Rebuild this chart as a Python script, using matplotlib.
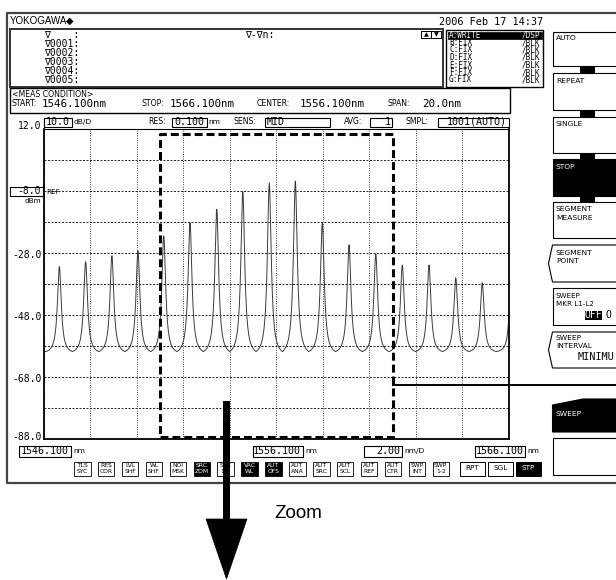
import numpy as np
import matplotlib.pyplot as plt
from matplotlib.patches import Rectangle, Polygon

W, H = 616, 580
SANS = 'DejaVu Sans'
MONO = 'DejaVu Sans Mono'

# --- sweep settings shown on the screen ---
start_nm, center_nm, stop_nm = 1546.1, 1556.1, 1566.1
span_nm, nm_div = 20.0, 2.0
top_dbm, ref_dbm, db_div = 12.0, -8.0, 10.0

# --- trace: peak centres / peak levels / floor between peaks ---
peak_nm = [1546.76, 1547.89, 1549.02, 1550.14, 1551.25, 1552.38, 1553.53, 1554.65,
           1555.79, 1556.91, 1558.07, 1559.22, 1560.37, 1561.51, 1562.66, 1563.81,
           1564.95, 1566.16]
peak_dbm = [-32.4, -30.8, -28.9, -27.3, -22.5, -18.2, -13.9, -8.2,
            -5.5, -4.8, -18.4, -25.4, -28.3, -31.9, -31.9, -36.0,
            -37.6, -44.0]
floor_dbm = -59.8
peak_hw_nm = 0.10

y_label_dbm = [12.0, -8.0, -28.0, -48.0, -68.0, -88.0]

# zoom window marked on the screen
zoom_nm = (1551.1, 1561.1)
zoom_dbm = (-87.3, 10.4)

marker_rows = ['∇    :', '∇0001:', '∇0002:', '∇0003:', '∇0004:', '∇0005:']
trace_names = ['A:WRITE', 'B:FIX', 'C:FIX', 'D:FIX', 'E:FIX', 'F:FIX', 'G:FIX']
trace_modes = ['/DSP', '/BLK', '/BLK', '/BLK', '/BLK', '/BLK', '/BLK']

btn_top = ['TLS', 'RES', 'LVL', 'WL', 'NOI', 'SRC', 'SRC', 'VAC', 'AUT', 'AUT',
           'AUT', 'AUT', 'AUT', 'AUT', 'SWP', 'SWP']
btn_bot = ['SYC', 'COR', 'SHF', 'SHF', 'MSK', 'ZOM', '1-2', 'WL', 'OFS', 'ANA',
           'SRC', 'SCL', 'REF', 'CTR', 'INT', '1-2']
btn_on = [5, 7, 8]


# build the trace from the peak table
pk = np.array(peak_nm)
lv = np.array(peak_dbm)
wl = np.union1d(np.linspace(start_nm, stop_nm, 4001), pk)
level = np.full_like(wl, floor_dbm)
for i in range(len(pk)):
    lh = (pk[i] - pk[i - 1]) / 2 if i > 0 else 0.57
    rh = (pk[i + 1] - pk[i]) / 2 if i < len(pk) - 1 else 0.57
    m = (wl >= pk[i] - lh) & (wl <= pk[i] + rh)
    d = wl[m] - pk[i]
    h = np.where(d < 0, lh, rh)
    s = 1 / (1 + (d / peak_hw_nm) ** 2)
    s0 = 1 / (1 + (h / peak_hw_nm) ** 2)
    level[m] = floor_dbm + (lv[i] - floor_dbm) * (s - s0) / (1 - s0)

fig = plt.figure(figsize=(W / 100, H / 100), dpi=100)

# spectrum area (pixels 44..509 x 129..439)
ax = fig.add_axes([44 / W, 1 - 439 / H, 465 / W, 310 / H])
ax.plot(wl, level, color='#3a3a3a', lw=0.7)
ax.set_xlim(start_nm, stop_nm)
ax.set_ylim(top_dbm - 10 * db_div, top_dbm)
ax.set_xticks(start_nm + np.arange(11) * nm_div)
ax.set_yticks(top_dbm - np.arange(11) * db_div)
ax.tick_params(length=0, labelbottom=False, labelleft=False)
ax.xaxis.grid(True, ls=(0, (1, 1.8)), color='k', lw=0.6)
ax.yaxis.grid(True, ls=(0, (2.4, 1.8)), color='k', lw=0.6)
for sp in ax.spines.values():
    sp.set_linewidth(1.3)
ax.spines['top'].set_linewidth(0.8)
zx = [zoom_nm[0], zoom_nm[1], zoom_nm[1], zoom_nm[0], zoom_nm[0]]
zy = [zoom_dbm[0], zoom_dbm[0], zoom_dbm[1], zoom_dbm[1], zoom_dbm[0]]
ax.plot(zx, zy, color='k', lw=2.2, ls=(0, (2.6, 1.3)), zorder=5)

# overlay in screen pixels
ov = fig.add_axes([0, 0, 1, 1], zorder=3)
ov.set_xlim(0, W)
ov.set_ylim(H, 0)
ov.axis('off')
ov.patch.set_alpha(0)


def px_y(db):
    return 129 + (top_dbm - db) / (10 * db_div) * 310


def box(x0, y0, x1, y1, fc='white', ec='black', lw=0.8, z=2):
    ov.add_patch(Rectangle((x0, y0), x1 - x0, y1 - y0, fc=fc, ec=ec, lw=lw, zorder=z))


def txt(x, y, s, size=5.4, mono=False, color='black', ha='left', z=4, **kw):
    ov.text(x, y, s, fontsize=size, family=MONO if mono else SANS, color=color,
            ha=ha, va='center', zorder=z, **kw)


# screen frame
ov.plot([616, 7, 7, 616], [13, 13, 483, 483], color='#444444', lw=1.6, zorder=2)

# header
ov.text(10, 21, 'YOKOGAWA', fontsize=7, family='Liberation Sans', va='center')
ov.text(66, 21, '◆', fontsize=7, family=SANS, va='center')
txt(543, 22, '2006 Feb 17 14:37', size=7.4, mono=True, ha='right')

# marker box
box(10, 29, 443, 87, lw=1.4, ec='#333333')
for i, r in enumerate(marker_rows):
    txt(44.5, 34.5 + 9.1 * i, r, size=7, mono=True)
txt(245, 34.5, '∇-∇n:', size=7, mono=True)
box(421, 31, 431, 38, lw=0.7)
box(431, 31, 441, 38, lw=0.7)
txt(426, 34.5, '▲', size=4.5, ha='center')
txt(436, 34.5, '▼', size=4.5, ha='center')

# trace list
box(446, 30, 543, 87, lw=1.0)
box(447.5, 31.5, 541.5, 38.5, fc='black', ec='black', lw=0.5)
for i, (n, mo) in enumerate(zip(trace_names, trace_modes)):
    c = 'white' if i == 0 else 'black'
    txt(449, 35 + 7.5 * i, n, size=5.5, mono=True, color=c)
    txt(540.5, 35 + 7.5 * i, mo, size=5.5, mono=True, color=c, ha='right')

# measurement condition line
box(10, 88, 510, 113, lw=1.0)
txt(12, 94.5, '<MEAS CONDITION>', size=5.6)
txt(12, 104, 'START:', size=5.6)
txt(42, 104, f'{start_nm:.3f}nm', size=7.8, mono=True)
txt(142, 104, 'STOP:', size=5.6)
txt(170, 104, f'{stop_nm:.3f}nm', size=7.8, mono=True)
txt(257, 104, 'CENTER:', size=5.6)
txt(300, 104, f'{center_nm:.3f}nm', size=7.8, mono=True)
txt(388, 104, 'SPAN:', size=5.6)
txt(422, 104, f'{span_nm:.1f}nm', size=7.8, mono=True)

# settings row above the grid
hy = 122
box(44, 117.5, 72, 126.5)
txt(58, hy, f'{db_div:.1f}', size=7.2, mono=True, ha='center')
txt(74, hy, 'dB/D', size=5.4)
txt(148, hy, 'RES:', size=5.6)
box(172, 117.5, 207, 126.5)
txt(189.5, hy, '0.100', size=7.2, mono=True, ha='center')
txt(208.5, hy, 'nm', size=5.4)
txt(234, hy, 'SENS:', size=5.6)
box(265, 117.5, 330, 126.5)
txt(267, hy, 'MID', size=7.2, mono=True)
txt(344, hy, 'AVG:', size=5.6)
box(370, 117.5, 392, 126.5)
txt(390.5, hy, '1', size=7.2, mono=True, ha='right')
txt(406, hy, 'SMPL:', size=5.6)
box(438, 117.5, 508.5, 126.5)
txt(507, hy, '1001(AUTO)', size=7.2, mono=True, ha='right')

# level labels
for v in y_label_dbm:
    yy = px_y(v) + (-3 if v == top_dbm else (-1.5 if v == y_label_dbm[-1] else 1.5))
    if v == ref_dbm:
        box(10, 187, 42.5, 195.5)
        txt(41, 191.2, f'{v:.1f}', size=7, mono=True, ha='right')
        txt(41, 201, 'dBm', size=5.2, ha='right')
        txt(46.5, 192, 'REF', size=5.2, z=1)
    else:
        txt(41.5, yy, f'{v:.1f}', size=7, mono=True, ha='right')

# wavelength labels
by = 451.2
for x0, x1, val in [(18.5, 70.7, start_nm), (252.6, 302.5, center_nm), (474.6, 525.3, stop_nm)]:
    box(x0, 446, x1, 456.5)
    txt(x1 - 1.5, by, f'{val:.3f}', size=7.2, mono=True, ha='right')
    txt(x1 + 2.5, by, 'nm', size=5.4)
box(363.5, 446, 402, 456.5)
txt(400.5, by, f'{nm_div:.2f}', size=7.2, mono=True, ha='right')
txt(404, by, 'nm/D', size=5.4)

# function buttons
for i, (a, b) in enumerate(zip(btn_top, btn_bot)):
    x0 = 74 + 23.9 * i
    on = i in btn_on
    box(x0, 461.5, x0 + 16.5, 475.5, fc='black' if on else 'white', lw=0.6)
    c = 'white' if on else 'black'
    txt(x0 + 8.25, 465.3, a, size=4.3, color=c, ha='center')
    txt(x0 + 8.25, 471.7, b, size=4.3, color=c, ha='center')
for x0, lab, on in [(460, 'RPT', False), (488, 'SGL', False), (516, 'STP', True)]:
    box(x0, 461.5, x0 + 25, 475.5, fc='black' if on else 'white', lw=0.7)
    txt(x0 + 12.5, 468.5, lab, size=5.2, color='white' if on else 'black', ha='center')

# soft keys
kx = 552.5
box(kx, 32, 625, 66)
txt(556, 38, 'AUTO')
box(580, 66, 595, 72.5, fc='black', lw=0)
box(kx, 72.5, 625, 110)
txt(556, 81, 'REPEAT')
box(580, 110, 595, 117, fc='black', lw=0)
box(kx, 117, 625, 152.5)
txt(556, 124, 'SINGLE')
box(580, 152.5, 595, 202, fc='black', lw=0)
box(kx, 159, 625, 196, fc='black')
txt(556, 167, 'STOP', color='white')
box(kx, 202, 625, 238)
txt(556, 209, 'SEGMENT')
txt(556, 217.5, 'MEASURE')
for y0, y1 in [(245, 282), (332, 368)]:
    ov.add_patch(Polygon([(kx, y0), (625, y0), (625, y1), (kx, y1), (548.5, (y0 + y1) / 2)],
                         closed=True, fc='white', ec='black', lw=0.8, zorder=2))
txt(556, 253, 'SEGMENT')
txt(556, 261, 'POINT')
box(kx, 288, 625, 325)
txt(556, 295.5, 'SWEEP', size=5.1)
txt(556, 303.5, 'MKR L1-L2', size=5.1)
box(585, 311, 602, 319.5, fc='black', lw=0)
txt(593.5, 315.3, 'OFF', size=7, mono=True, color='white', ha='center')
txt(605, 315.3, 'O', size=7, mono=True)
txt(556, 338, 'SWEEP')
txt(556, 346.5, 'INTERVAL')
txt(578, 356.5, 'MINIMU', size=7.4, mono=True)
ov.add_patch(Polygon([(kx, 405), (583, 399), (625, 399), (625, 432), (kx, 432)],
                     closed=True, fc='black', ec='black', lw=0.8, zorder=2))
txt(556, 414, 'SWEEP', color='white')
box(kx, 438, 625, 475)

# zoom call-out: connector and arrow
ov.plot([392.7, 616], [385, 385], color='black', lw=1.4, zorder=5)
box(223, 401, 230, 521, fc='black', lw=0, z=6)
ov.add_patch(Polygon([(206, 519), (247, 519), (226.5, 579)], closed=True,
                     fc='black', ec='black', lw=0.5, zorder=6))
ov.text(274, 513, 'Zoom', fontsize=13.5, family='Liberation Sans', va='center', zorder=6)

fig.savefig('out.png', dpi=100)
